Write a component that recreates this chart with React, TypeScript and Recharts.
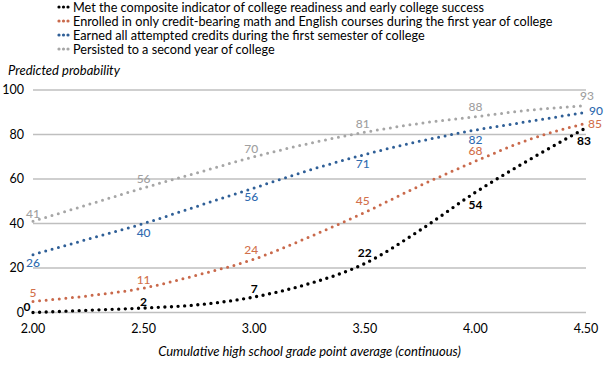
import { LineChart, Line, XAxis, YAxis, CartesianGrid, LabelList } from 'recharts';

const gpa = [2.0, 2.25, 2.5, 2.75, 3.0, 3.25, 3.5, 3.75, 4.0, 4.25, 4.5];
const metComposite = [0, 1, 2, 3.5, 7, 13, 22, 37, 54, 69, 83];
const creditBearing = [5, 7.5, 11, 17, 24, 34, 45, 57, 68, 78, 85];
const earnedCredits = [26, 33, 40, 48, 56, 64, 71, 77, 82, 86, 90];
const persisted = [41, 48.5, 56, 63, 70, 76, 81, 85, 88, 91, 93];

const xTicks = [2.0, 2.5, 3.0, 3.5, 4.0, 4.5];
const yTicks = [0, 20, 40, 60, 80, 100];

const seriesNames = [
  'Met the composite indicator of college readiness and early college success',
  'Enrolled in only credit-bearing math and English courses during the first year of college',
  'Earned all attempted credits during the first semester of college',
  'Persisted to a second year of college',
];

const FONT = 'Lato, "Open Sans", sans-serif';

const data = gpa.map((g, i) => ({
  gpa: g,
  met: metComposite[i],
  credit: creditBearing[i],
  earned: earnedCredits[i],
  persisted: persisted[i],
}));

const series = [
  { key: 'met', name: seriesNames[0], color: '#000000', text: '#000000', bold: true },
  { key: 'credit', name: seriesNames[1], color: '#c9694b', text: '#d2704b', bold: false },
  { key: 'earned', name: seriesNames[2], color: '#2f5f97', text: '#2f6bb0', bold: false },
  { key: 'persisted', name: seriesNames[3], color: '#a6a6a6', text: '#a0a0a0', bold: false },
];

// label offsets (dx, dy) per series, keyed by gpa
const labelSpots: Record<string, Record<string, [number, number]>> = {
  met: { '2': [-6, -6], '2.5': [0, -7], '3': [0, -8], '3.5': [0, -11], '4': [0, 12], '4.5': [-2, 13] },
  credit: { '2': [0, -9], '2.5': [0, -9], '3': [-3, -10], '3.5': [-2, -12], '4': [0, -11], '4.5': [9, 0] },
  earned: { '2': [0, 8], '2.5': [0, 9], '3': [-3, 9], '3.5': [-2, 9], '4': [0, 9], '4.5': [10, -2] },
  persisted: { '2': [0, -8], '2.5': [0, -9], '3': [-3, -8], '3.5': [-2, -9], '4': [0, -10], '4.5': [1, -10] },
};

function makeLabel(key: string, fill: string, bold: boolean) {
  return (props: any) => {
    const { x, y, value, index } = props;
    const g = gpa[index];
    if (!xTicks.includes(g)) return null;
    const spot = labelSpots[key][String(g)] || [0, -9];
    return (
      <text
        x={x + spot[0]}
        y={y + spot[1]}
        textAnchor="middle"
        dominantBaseline="central"
        fontFamily={FONT}
        fontSize={12}
        fontWeight={bold ? 700 : 500}
        fill={fill}
      >
        {value}
      </text>
    );
  };
}

function LegendBlock() {
  return (
    <div style={{ position: 'absolute', left: 57, top: 0, fontFamily: FONT, fontSize: 12.7, lineHeight: '14px' }}>
      {series.map((s) => (
        <div key={s.key} style={{ display: 'flex', alignItems: 'center', whiteSpace: 'nowrap' }}>
          <svg width={16} height={8}>
            {[2, 6.5, 11].map((cx) => (
              <circle key={cx} cx={cx} cy={4} r={1.6} fill={s.color} />
            ))}
          </svg>
          <span style={{ color: '#000' }}>{s.name}</span>
        </div>
      ))}
    </div>
  );
}

export default function App() {
  return (
    <div style={{ position: 'absolute', left: 0, top: 0, width: 611, height: 366, background: '#fff' }}>
      <LegendBlock />
      <LineChart width={611} height={366} data={data} margin={{ top: 90, right: 25, bottom: 0, left: 0 }}>
        <CartesianGrid horizontal vertical={false} stroke="#bfbfbf" strokeWidth={1.3} />
        <XAxis
          dataKey="gpa"
          type="number"
          domain={[2, 4.5]}
          ticks={xTicks}
          tickFormatter={(v: number) => v.toFixed(2)}
          axisLine={false}
          tickLine={false}
          tickSize={0}
          tickMargin={12}
          height={53.5}
          tick={{ fontFamily: FONT, fontSize: 12.5, fill: '#000' }}
          label={{
            value: 'Cumulative high school grade point average (continuous)',
            position: 'insideBottom',
            offset: 10,
            style: { fontFamily: FONT, fontSize: 13, fontStyle: 'italic', fill: '#000' },
          }}
        />
        <YAxis
          domain={[0, 100]}
          ticks={yTicks}
          axisLine={false}
          tickLine={false}
          tickSize={0}
          tickMargin={9}
          width={33}
          tick={{ fontFamily: FONT, fontSize: 12.5, fill: '#000' }}
          label={{
            content: (p: any) => (
              <text
                x={8}
                y={p.viewBox.y - 15}
                fontFamily={FONT}
                fontSize={13}
                fontStyle="italic"
                fill="#000"
              >
                Predicted probability
              </text>
            ),
          }}
        />
        {series.slice().reverse().map((s) => (
          <Line
            key={s.key}
            type="monotone"
            dataKey={s.key}
            stroke={s.color}
            strokeWidth={s.key === 'met' ? 3.4 : 3}
            strokeDasharray="0 6.6"
            strokeLinecap="round"
            dot={false}
            activeDot={false}
            isAnimationActive={false}
          >
            <LabelList dataKey={s.key} content={makeLabel(s.key, s.text, s.bold)} />
          </Line>
        ))}
      </LineChart>
    </div>
  );
}
